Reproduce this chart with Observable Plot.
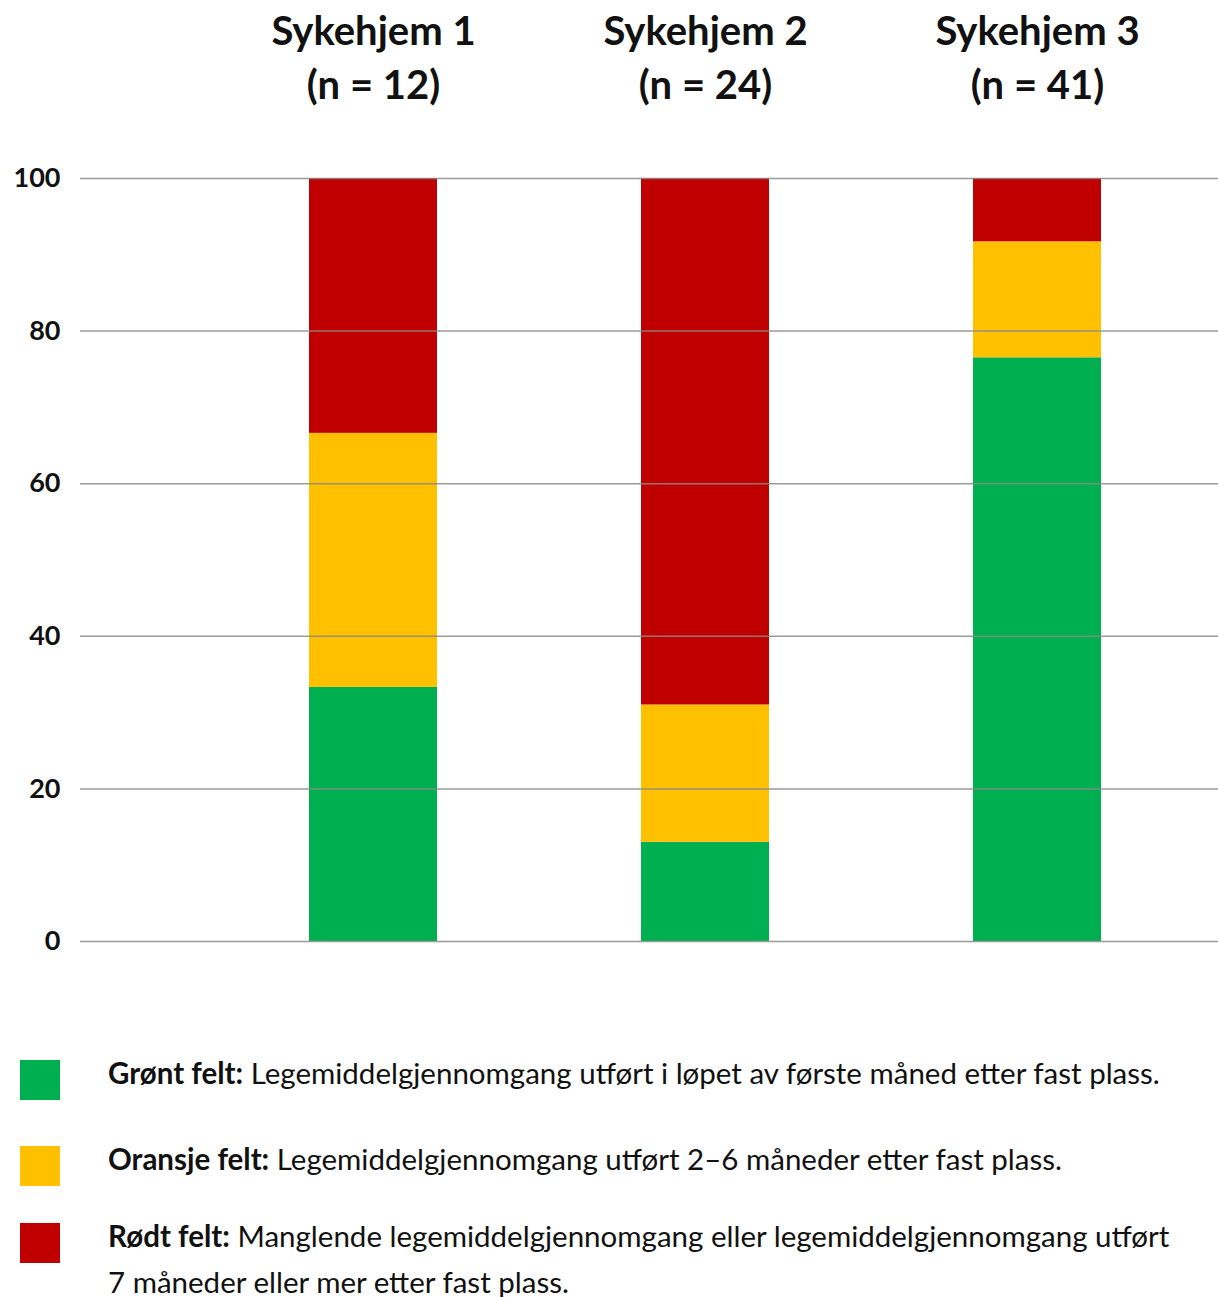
<!DOCTYPE html>
<html>
<head>
<meta charset="utf-8">
<script src="https://cdn.jsdelivr.net/npm/d3@7"></script>
<script src="https://cdn.jsdelivr.net/npm/@observablehq/plot@0.6"></script>
<style>
  body { margin: 0; background: #fff; font-family: Lato, "Open Sans", sans-serif; }
  #wrap { width: 1218px; }
  #legend { position: relative; height: 317px; width: 1218px; }
  .sw { position: absolute; left: 20px; width: 40px; height: 40px; }
  .lt { position: absolute; left: 108px; font-size: 29.5px; line-height: 46px; color: #111; white-space: nowrap; }
  .lt b { font-weight: 700; }
</style>
</head>
<body>
<div id="wrap">
  <div id="chart"></div>
  <div id="legend"></div>
</div>
<script>
const homes = ["Sykehjem 1", "Sykehjem 2", "Sykehjem 3"];
const nValues = [12, 24, 41];
const categories = ["Grønt felt", "Oransje felt", "Rødt felt"];
const colors = ["#00B050", "#FFC000", "#C00000"];
const greenValues = [33.3, 13.0, 76.5];
const orangeValues = [33.3, 18.0, 15.2];
const redValues = [33.4, 69.0, 8.3];
const yTicks = [0, 20, 40, 60, 80, 100];
const legendLines = [
  ["Legemiddelgjennomgang utført i løpet av første måned etter fast plass."],
  ["Legemiddelgjennomgang utført 2–6 måneder etter fast plass."],
  ["Manglende legemiddelgjennomgang eller legemiddelgjennomgang utført", "7 måneder eller mer etter fast plass."]
];

const series = [greenValues, orangeValues, redValues];
const rows = [];
homes.forEach((h, i) => {
  categories.forEach((c, j) => rows.push({home: h, cat: c, value: series[j][i]}));
});

const chart = Plot.plot({
  width: 1218,
  height: 980,
  marginLeft: 80,
  marginRight: 0,
  marginTop: 178,
  marginBottom: 39,
  style: {fontFamily: "Lato, 'Open Sans', sans-serif", background: "#fff"},
  x: {domain: homes, range: [308, 1101], paddingInner: 0.615, paddingOuter: 0, label: null},
  y: {domain: [0, 100], label: null},
  color: {domain: categories, range: colors},
  marks: [
    Plot.barY(rows, {x: "home", y: "value", fill: "cat", z: "cat"}),
    Plot.ruleY(yTicks, {stroke: "#8a8a8a", strokeOpacity: 0.85, strokeWidth: 1.5}),
    Plot.axisY(yTicks, {tickSize: 0, tickPadding: 20, fontSize: 27, fontWeight: "bold", label: null}),
    Plot.axisX({anchor: "top", tickSize: 0, tickPadding: 80, fontSize: 40, fontWeight: "bold", lineHeight: 1.33, label: null,
      tickFormat: d => d + "\n(n = " + nValues[homes.indexOf(d)] + ")"})
  ]
});
chart.querySelectorAll('[aria-label="y-axis tick label"] text').forEach(t => { t.style.fill = "#111"; });
chart.querySelectorAll('[aria-label="x-axis tick label"] text').forEach(t => { t.style.fill = "#111"; });
document.getElementById("chart").appendChild(chart);

const legend = document.getElementById("legend");
const swTops = [80, 166, 243];
categories.forEach((c, i) => {
  const sw = document.createElement("div");
  sw.className = "sw";
  sw.style.top = swTops[i] + "px";
  sw.style.background = colors[i];
  legend.appendChild(sw);
  const t = document.createElement("div");
  t.className = "lt";
  t.style.top = (swTops[i] - 10) + "px";
  const b = document.createElement("b");
  b.textContent = c + ":";
  t.appendChild(b);
  legendLines[i].forEach((line, k) => {
    if (k > 0) t.appendChild(document.createElement("br"));
    t.appendChild(document.createTextNode((k === 0 ? " " : "") + line));
  });
  legend.appendChild(t);
});
</script>
</body>
</html>
